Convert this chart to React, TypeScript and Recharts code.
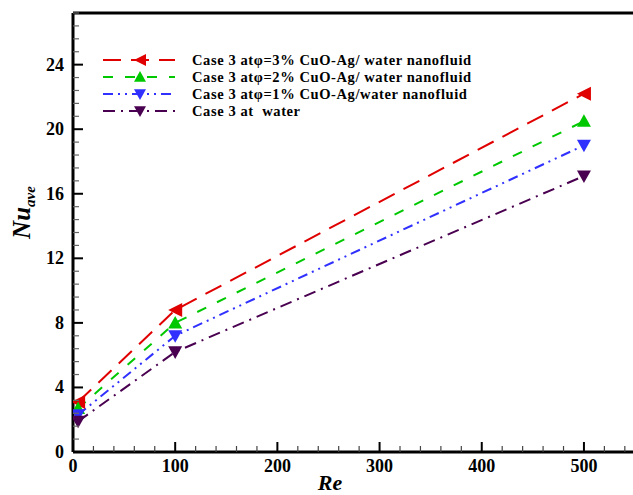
import { Label, Line, LineChart, ReferenceLine, XAxis, YAxis } from "recharts";

// Re values and Nu_ave
const re = [5, 100, 500];
const nu3 = [3.1, 8.8, 22.2];
const nu2 = [2.7, 8.0, 20.5];
const nu1 = [2.3, 7.2, 19.0];
const nuWater = [1.9, 6.2, 17.1];

const xMajor = [0, 100, 200, 300, 400, 500];
const yMajor = [0, 4, 8, 12, 16, 20, 24];
const X_MAX = 548;
const Y_MAX = 27.2;

const xTicks = Array.from({ length: 28 }, (_, i) => i * 20);
const yTicks = Array.from({ length: 35 }, (_, i) => +(i * 0.8).toFixed(1));

const series = [
  { key: "c3", label: "Case 3 at\u03c6=3% CuO-Ag/ water nanofluid", color: "#e00000", dash: "18 10", shape: "left", data: nu3 },
  { key: "c2", label: "Case 3 at\u03c6=2% CuO-Ag/ water nanofluid", color: "#00c800", dash: "10 12", shape: "up", data: nu2 },
  { key: "c1", label: "Case 3 at\u03c6=1% CuO-Ag/water nanofluid", color: "#3030ff", dash: "10 5 2 5 2 5", shape: "down", data: nu1 },
  { key: "w", label: "Case 3 at  water", color: "#4a0050", dash: "12 6 2 6", shape: "down", data: nuWater },
];

const data = re.map((r, i) => {
  const row: Record<string, number> = { re: r };
  series.forEach((s) => (row[s.key] = s.data[i]));
  return row;
});

const FONT = '"Liberation Serif", "DejaVu Serif", serif';
const txt = { fontFamily: FONT, fontWeight: "bold" as const };

function tri(shape: string, cx: number, cy: number, r = 7) {
  if (shape === "left") return `${cx - r},${cy} ${cx + r},${cy - r} ${cx + r},${cy + r}`;
  if (shape === "up") return `${cx},${cy - r} ${cx - r},${cy + r * 0.8} ${cx + r},${cy + r * 0.8}`;
  return `${cx},${cy + r} ${cx - r},${cy - r * 0.8} ${cx + r},${cy - r * 0.8}`;
}

const isMajor = (v: number, list: number[]) => list.some((m) => Math.abs(m - v) < 1e-6);

const YTick = (p: any) => {
  const v = p.payload.value;
  const major = isMajor(v, yMajor);
  return (
    <g>
      <line x1={p.x} x2={p.x + (major ? 10 : 6)} y1={p.y} y2={p.y} stroke={major ? "#000" : "#666"} strokeWidth={major ? 2 : 1.2} />
      {major && (
        <text x={p.x - 9} y={p.y + 6} textAnchor="end" style={{ ...txt, fontSize: 18 }} fill="#000">
          {v}
        </text>
      )}
    </g>
  );
};

const XTick = (p: any) => {
  const v = p.payload.value;
  const major = isMajor(v, xMajor);
  return (
    <g>
      <line x1={p.x} x2={p.x} y1={p.y} y2={p.y - (major ? 10 : 6)} stroke={major ? "#000" : "#444"} strokeWidth={major ? 2 : 1.2} />
      {major && (
        <text x={p.x} y={p.y + 20} textAnchor="middle" style={{ ...txt, fontSize: 18 }} fill="#000">
          {v}
        </text>
      )}
    </g>
  );
};

const YLabel = (p: any) => {
  const vb = p.viewBox;
  const cx = vb.x + 30;
  const cy = vb.y + vb.height / 2 - 20;
  return (
    <text transform={`rotate(-90 ${cx} ${cy})`} x={cx} y={cy} textAnchor="middle" style={{ ...txt, fontStyle: "italic" }} fill="#000">
      <tspan fontSize={25}>Nu</tspan>
      <tspan fontSize={15} dy={5}>ave</tspan>
    </text>
  );
};

const XLabel = (p: any) => {
  const vb = p.viewBox;
  return (
    <text x={vb.x + vb.width / 2 - 23} y={vb.y + 38} textAnchor="middle" style={{ ...txt, fontStyle: "italic", fontSize: 22 }} fill="#000">
      Re
    </text>
  );
};

function LegendBox() {
  return (
    <svg width={420} height={80} style={{ position: "absolute", left: 95, top: 50 }}>
      {series.map((s, i) => {
        const y = 10 + i * 17;
        return (
          <g key={s.key}>
            <line x1={8} x2={80} y1={y} y2={y} stroke={s.color} strokeWidth={2} strokeDasharray={s.dash} />
            <polygon points={tri(s.shape, 45, y, 6)} fill={s.color} />
            <text x={97} y={y + 5} style={{ ...txt, fontSize: 14.5, letterSpacing: 0.6, whiteSpace: "pre" }} fill="#000">
              {s.label}
            </text>
          </g>
        );
      })}
    </svg>
  );
}

export default function App() {
  return (
    <div style={{ position: "absolute", left: 0, top: 0, width: 633, height: 495, background: "#fff", overflow: "hidden" }}>
      <LineChart width={633} height={495} data={data} margin={{ top: 13, right: 0, bottom: 0, left: 0 }}>
        <XAxis
          dataKey="re"
          type="number"
          domain={[0, X_MAX]}
          ticks={xTicks}
          interval={0}
          tickLine={false}
          tickSize={0}
          tickMargin={0}
          tick={<XTick />}
          height={43}
          axisLine={{ stroke: "#000", strokeWidth: 3 }}
          allowDataOverflow
        >
          <Label content={<XLabel />} />
        </XAxis>
        <YAxis
          type="number"
          domain={[0, Y_MAX]}
          ticks={yTicks}
          interval={0}
          tickLine={false}
          tickSize={0}
          tickMargin={0}
          tick={<YTick />}
          width={73}
          axisLine={{ stroke: "#000", strokeWidth: 3 }}
          allowDataOverflow
        >
          <Label content={<YLabel />} />
        </YAxis>
        <ReferenceLine y={Y_MAX} stroke="#000" strokeWidth={3} />
        {series.map((s) => (
          <Line
            key={s.key}
            dataKey={s.key}
            type="linear"
            stroke={s.color}
            strokeWidth={2}
            strokeDasharray={s.dash}
            isAnimationActive={false}
            dot={(p: any) => <polygon key={`${s.key}-${p.index}`} points={tri(s.shape, p.cx, p.cy)} fill={s.color} />}
          />
        ))}
      </LineChart>
      <LegendBox />
    </div>
  );
}
